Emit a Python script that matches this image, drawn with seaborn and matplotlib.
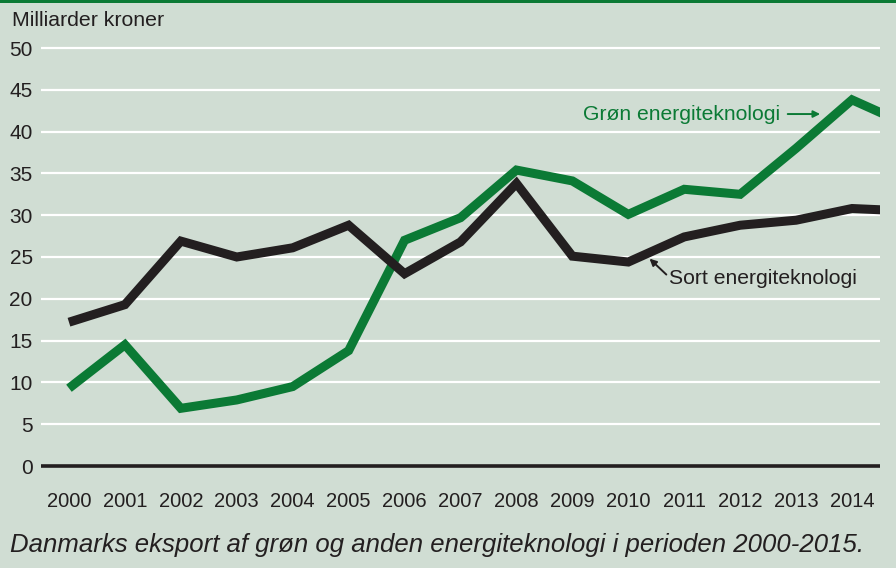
import numpy as np
import pandas as pd
import matplotlib
matplotlib.use("Agg")
import matplotlib.pyplot as plt
import seaborn as sns

# Data (billions DKK)
years = list(range(2000, 2016))
groen = [9.3, 14.5, 6.9, 7.9, 9.5, 13.8, 27.0, 29.7, 35.4, 34.1, 30.1, 33.1, 32.5, 38.0, 43.8, 40.8]
sort = [17.2, 19.3, 26.9, 25.0, 26.1, 28.8, 23.0, 26.8, 33.8, 25.1, 24.4, 27.4, 28.8, 29.4, 30.8, 30.5]
yticks = [0, 5, 10, 15, 20, 25, 30, 35, 40, 45, 50]
xticks = list(range(2000, 2015))

BG = "#d0ddd3"
GREEN = "#0b7a35"
DARK = "#231f20"

df = pd.DataFrame({
    "aar": years * 2,
    "vaerdi": groen + sort,
    "serie": ["Grøn"] * len(years) + ["Sort"] * len(years),
})

sns.set_theme(style="white")
plt.rcParams["font.family"] = ["Liberation Sans", "DejaVu Sans"]

fig = plt.figure(figsize=(8.96, 5.68), dpi=100, facecolor=BG)
ax = fig.add_axes([41 / 896, 1 - 466 / 568, (880 - 41) / 896, (466 - 48) / 568])
ax.set_facecolor(BG)

# top green rule
fig.add_artist(plt.Rectangle((0, 1 - 3 / 568), 1, 3 / 568, transform=fig.transFigure,
                             color=GREEN, lw=0))

ax.hlines(yticks[1:], 1999.5, 2014.5, color="white", lw=1.6, zorder=1, clip_on=False)
ax.hlines([0], 1999.5, 2014.5, color=DARK, lw=2.6, zorder=2, clip_on=False)

sns.lineplot(data=df, x="aar", y="vaerdi", hue="serie", palette={"Grøn": GREEN, "Sort": DARK},
             lw=6.5, ax=ax, legend=False, zorder=3)
for l in ax.lines[-2:]:
    l.set_solid_joinstyle("miter")
    l.set_solid_capstyle("butt")

ax.set_xlim(1999.5, 2014.5)
ax.set_ylim(0, 50)
ax.set_xticks(xticks)
ax.set_yticks(yticks)
ax.set_xlabel("")
ax.set_ylabel("")
for s in ax.spines.values():
    s.set_visible(False)
ax.tick_params(axis="y", length=0, pad=6, labelsize=15, labelcolor=DARK)
ax.tick_params(axis="x", length=0, pad=19, labelsize=14.5, labelcolor=DARK)

fig.text(12 / 896, 1 - 20 / 568, "Milliarder kroner", fontsize=15.3, color=DARK, va="center", ha="left")

# labels and arrows
ax.text(2012.71, 42.1, "Grøn energiteknologi", color=GREEN, fontsize=15.2, ha="right", va="center")
ax.annotate("", xy=(2013.43, 42.1), xytext=(2012.85, 42.1),
            arrowprops=dict(arrowstyle="-|>", color=GREEN, lw=1.4, mutation_scale=10,
                            shrinkA=0, shrinkB=0))
ax.text(2010.73, 22.4, "Sort energiteknologi", color=DARK, fontsize=15.2, ha="left", va="center")
ax.annotate("", xy=(2010.38, 24.8), xytext=(2010.68, 22.9),
            arrowprops=dict(arrowstyle="-|>", color=DARK, lw=1.4, mutation_scale=10,
                            shrinkA=0, shrinkB=0))

fig.text(10 / 896, 1 - 545 / 568, "Danmarks eksport af grøn og anden energiteknologi i perioden 2000-2015.",
         fontsize=18.5, style="italic", color=DARK, va="center", ha="left")

fig.savefig("out.png", dpi=100, facecolor=BG)
